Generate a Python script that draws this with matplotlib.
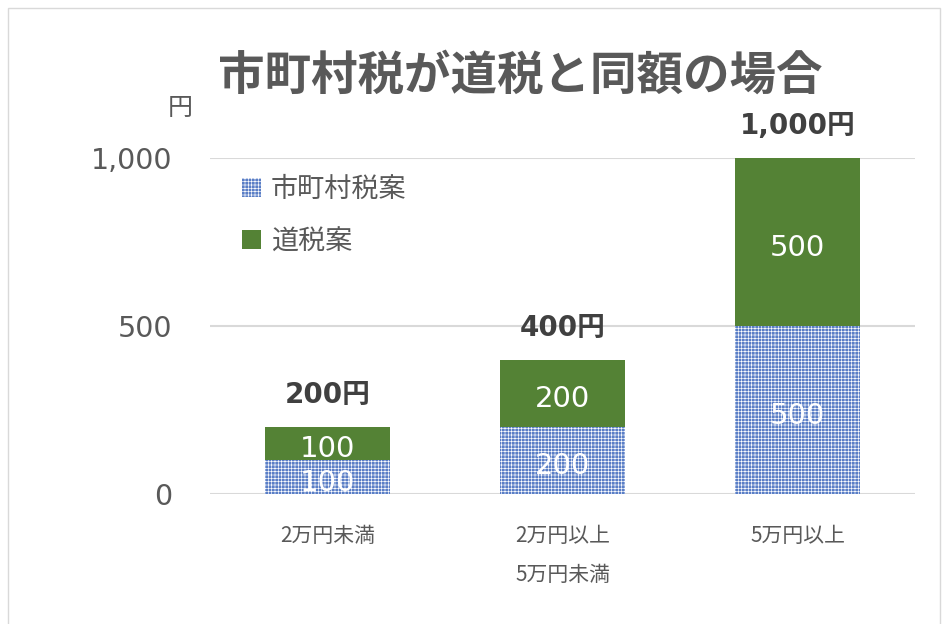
import matplotlib
matplotlib.use('Agg')
import matplotlib.pyplot as plt
import matplotlib.patches as patches
import numpy as np
from matplotlib.ticker import FuncFormatter

# Data
categories = ['2万円未満', '2万円以上\n5万円未満', '5万円以上']
series_names = ['市町村税案', '道税案']
municipal_tax = [100, 200, 500]
hokkaido_tax = [100, 200, 500]
y_ticks = [0, 500, 1000]

title = '市町村税が道税と同額の場合'
unit = '円'

# Styling
JP = ['Noto Sans CJK JP', 'DejaVu Sans']
NUM = ['DejaVu Sans', 'Noto Sans CJK JP']
gray_text = '#595959'
blue = '#5A7EC6'
green = '#548235'
grid_col = '#D9D9D9'

plt.rcParams['font.family'] = JP
plt.rcParams['hatch.linewidth'] = 0.45

fig = plt.figure(figsize=(9.45, 6.24), dpi=100)
ax = fig.add_axes([210 / 945, 130 / 624, 705 / 945, 336 / 624])

x = np.arange(len(categories))
width = 0.53

bars_muni = ax.bar(x, municipal_tax, width, color=blue, edgecolor='white',
                   hatch='+++++', linewidth=0, label=series_names[0], zorder=2)
bars_hok = ax.bar(x, hokkaido_tax, width, bottom=municipal_tax, color=green,
                  linewidth=0, label=series_names[1], zorder=2)

# values inside the segments (Excel sits them a little low)
for bars in (bars_muni, bars_hok):
    for b in bars:
        ax.annotate(f'{int(b.get_height()):,}',
                    (b.get_x() + b.get_width() / 2, b.get_y() + b.get_height() / 2),
                    xytext=(0, -4), textcoords='offset points',
                    ha='center', va='center', color='white', fontsize=21,
                    family=NUM, zorder=3)

# totals above the bars
totals = [m + h for m, h in zip(municipal_tax, hokkaido_tax)]
for xi, t in zip(x, totals):
    ax.annotate(f'{t:,}円', (xi, t), xytext=(0, 23), textcoords='offset points',
                ha='center', va='center', fontsize=20, fontweight='bold',
                color='#404040', family=NUM, annotation_clip=False)

ax.set_xlim(-0.5, 2.5)
ax.set_ylim(0, 1000)
ax.set_yticks(y_ticks)
ax.yaxis.set_major_formatter(FuncFormatter(lambda v, p: f'{int(v):,}'))
ax.tick_params(axis='y', length=0, pad=27, labelsize=20.5, labelcolor=gray_text)
for lab in ax.get_yticklabels():
    lab.set_family(NUM)
ax.set_xticks(x)
ax.set_xticklabels(categories, fontsize=15, color=gray_text, linespacing=2.0,
                   va='top')
ax.tick_params(axis='x', length=0, pad=22)

ax.grid(axis='y', color=grid_col, linewidth=1.5, zorder=0)
ax.set_axisbelow(True)
for s in ax.spines.values():
    s.set_visible(False)

leg = ax.legend(loc='upper left', bbox_to_anchor=(0.011, 1.02), frameon=False,
                fontsize=19.5, handlelength=0.7, handleheight=0.7,
                handletextpad=0.35, labelspacing=0.95)
for t in leg.get_texts():
    t.set_color(gray_text)

fig.text(520 / 945, 1 - 76 / 624, title, ha='center', va='center',
         fontsize=33.5, fontweight='bold', color=gray_text)
fig.text(180 / 945, 1 - 108 / 624, unit, ha='center', va='center',
         fontsize=18, color=gray_text)

# chart area border
fig.patches.append(patches.Rectangle((8 / 945, -0.01), 932 / 945, 1 - 8 / 624 + 0.01,
                                     transform=fig.transFigure, fill=False,
                                     edgecolor=grid_col, linewidth=1))

fig.savefig('out.png', dpi=100)
